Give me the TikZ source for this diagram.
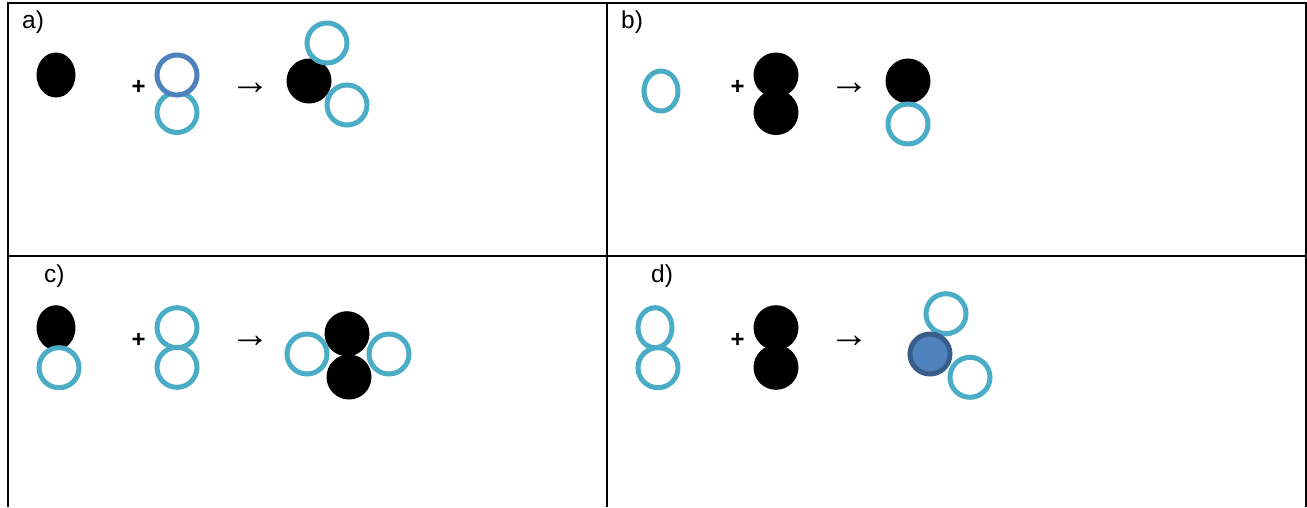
\documentclass[tikz,border=0pt]{standalone}
\usepackage{fontspec}
\setmainfont{Liberation Sans}
\definecolor{teal}{HTML}{4BACC6}
\definecolor{ringblue}{HTML}{4F81BD}
\definecolor{darkblue}{HTML}{385D8A}
\tikzset{
  frame/.style={line width=2.4pt,black},
  tealring/.style={draw=teal,line width=5pt,fill=white},
  bluering/.style={draw=ringblue,line width=5pt,fill=white},
  blueball/.style={draw=darkblue,line width=5pt,fill=ringblue},
  blackball/.style={fill=black},
  lab/.style={anchor=base west,inner sep=0pt,font=\fontsize{24.5}{24.5}\selectfont},
  plus/.style={inner sep=0pt,font=\fontsize{24}{24}\selectfont\bfseries},
  yields/.style={inner sep=0pt,font=\fontsize{40}{40}\selectfont}
}
\begin{document}
\begin{tikzpicture}[x=1pt,y=-1pt]
\useasboundingbox (0,0) rectangle (1307,507);
\fill[white] (0,0) rectangle (1307,507);
% panel a
\fill[blackball] (56,75) ellipse [x radius=19.5,y radius=22.5];
\draw[tealring] (177,112.5) circle [radius=20];
\draw[bluering] (177,75) circle [radius=20];
\fill[blackball] (309,81) circle [radius=22.5];
\draw[tealring] (327,43) circle [radius=20];
\draw[tealring] (347,105) circle [radius=20];
\node[lab] (la) at (22,28) {a)};
\node[plus] (pa) at (138.7,87) {+};
\node[yields] (ya) at (250,88.7) {→};
% panel b
\draw[tealring] (661,91) ellipse [x radius=17,y radius=20];
\fill[blackball] (776,75) circle [radius=22.5];
\fill[blackball] (776,112.5) circle [radius=22.5];
\fill[blackball] (908,81) circle [radius=22.5];
\draw[tealring] (908,124) circle [radius=20];
\node[lab] (lb) at (621,28) {b)};
\node[plus] (pb) at (737.7,87) {+};
\node[yields] (yb) at (849,88.7) {→};
% panel c
\fill[blackball] (56,327.7) ellipse [x radius=19.5,y radius=22.5];
\draw[tealring] (59,367.7) circle [radius=20];
\draw[tealring] (177,327.7) circle [radius=20];
\draw[tealring] (177,367.3) circle [radius=20];
\fill[blackball] (347,333.7) circle [radius=22.5];
\fill[blackball] (349,377) circle [radius=22.5];
\draw[tealring] (307,354) circle [radius=20];
\draw[tealring] (389,354) circle [radius=20];
\node[lab] (lc) at (44,282) {c)};
\node[plus] (pc) at (138.7,340) {+};
\node[yields] (yc) at (250,341.7) {→};
% panel d
\draw[tealring] (655,327.7) ellipse [x radius=17,y radius=20];
\draw[tealring] (658,367.7) circle [radius=20];
\fill[blackball] (776,327.7) circle [radius=22.5];
\fill[blackball] (776,367.3) circle [radius=22.5];
\draw[tealring] (946,313.7) circle [radius=20];
\draw[blueball] (930,354) circle [radius=20];
\draw[tealring] (970,377.3) circle [radius=20];
\node[lab] (ld) at (651,282) {d)};
\node[plus] (pd) at (737.7,340) {+};
\node[yields] (yd) at (849,341.7) {→};
% table lines
\draw[frame] (8,507) -- (8,3) -- (1306,3) -- (1306,507);
\draw[frame] (607,3) -- (607,507);
\draw[frame] (8,256) -- (1306,256);
\end{tikzpicture}
\end{document}
